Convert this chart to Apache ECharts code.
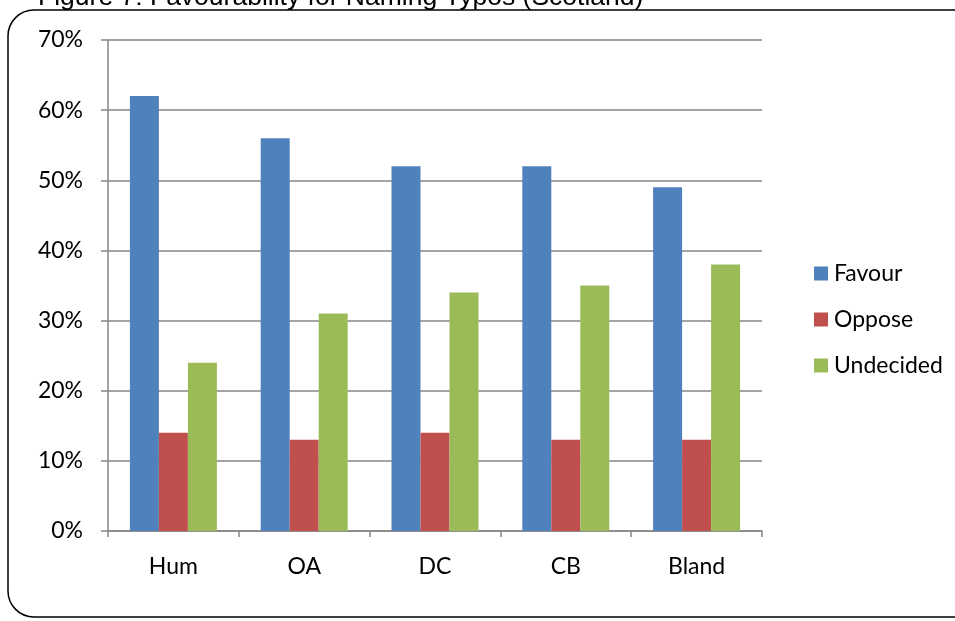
<!DOCTYPE html>
<html>
<head>
<meta charset="utf-8">
<script src="https://cdn.jsdelivr.net/npm/echarts@6/dist/echarts.min.js"></script>
<style>
  html, body { margin: 0; padding: 0; background: #ffffff; }
  #chart { width: 955px; height: 621px; }
</style>
</head>
<body>
<div id="chart"></div>
<script>
// Naming typo favourability in Scotland, percent of respondents
const categories = ['Hum', 'OA', 'DC', 'CB', 'Bland'];
const favour = [62, 56, 52, 52, 49];
const oppose = [14, 13, 14, 13, 13];
const undecided = [24, 31, 34, 35, 38];
const yTicks = [0, 10, 20, 30, 40, 50, 60, 70];
const titleText = 'Figure 7: Favourability for Naming Typos (Scotland)';

const labelFont = 'Lato, "Open Sans", sans-serif';
const labelSize = 23;
const axisGray = '#868686';

const chart = echarts.init(document.getElementById('chart'), null, { renderer: 'canvas' });

function barSeries(name, data, color) {
  return {
    name: name,
    type: 'bar',
    data: data,
    barGap: '0%',
    barCategoryGap: '33.5%',
    itemStyle: { color: color },
    emphasis: { disabled: true }
  };
}

chart.setOption({
  animation: false,
  backgroundColor: '#ffffff',
  grid: { left: 108, right: 193, top: 40, bottom: 90, containLabel: false },
  graphic: [
    {
      type: 'rect',
      shape: { x: 8, y: 10, width: 1000, height: 607, r: 26 },
      style: { fill: 'none', stroke: '#000000', lineWidth: 1.5 },
      z: 0
    },
    {
      type: 'text',
      x: 38,
      y: 11,
      style: {
        text: titleText,
        fill: '#000000',
        font: '26.5px "Liberation Sans", Arial, sans-serif',
        verticalAlign: 'bottom'
      },
      z: 1
    }
  ],
  legend: {
    orient: 'vertical',
    left: 814,
    top: 262,
    padding: 0,
    itemWidth: 14,
    itemHeight: 14,
    itemGap: 23,
    icon: 'rect',
    textStyle: { fontFamily: labelFont, fontSize: labelSize, color: '#000000', padding: [0, 0, 0, 1] },
    data: ['Favour', 'Oppose', 'Undecided']
  },
  xAxis: {
    type: 'category',
    data: categories,
    axisLine: { show: true, lineStyle: { color: axisGray, width: 1.5 } },
    axisTick: { show: true, length: 6, lineStyle: { color: axisGray, width: 1.5 } },
    axisLabel: { color: '#000000', fontFamily: labelFont, fontSize: labelSize, margin: 24 },
    splitLine: { show: false }
  },
  yAxis: {
    type: 'value',
    min: yTicks[0],
    max: yTicks[yTicks.length - 1],
    interval: 10,
    axisLine: { show: true, lineStyle: { color: axisGray, width: 1.5 } },
    axisTick: { show: true, length: 7, lineStyle: { color: axisGray, width: 1.5 } },
    axisLabel: { color: '#000000', fontFamily: labelFont, fontSize: labelSize, margin: 25, formatter: '{value}%' },
    splitLine: { show: true, lineStyle: { color: axisGray, width: 1.5 } }
  },
  series: [
    barSeries('Favour', favour, '#4f81bd'),
    barSeries('Oppose', oppose, '#c0504d'),
    barSeries('Undecided', undecided, '#9bbb59')
  ]
});
</script>
</body>
</html>
